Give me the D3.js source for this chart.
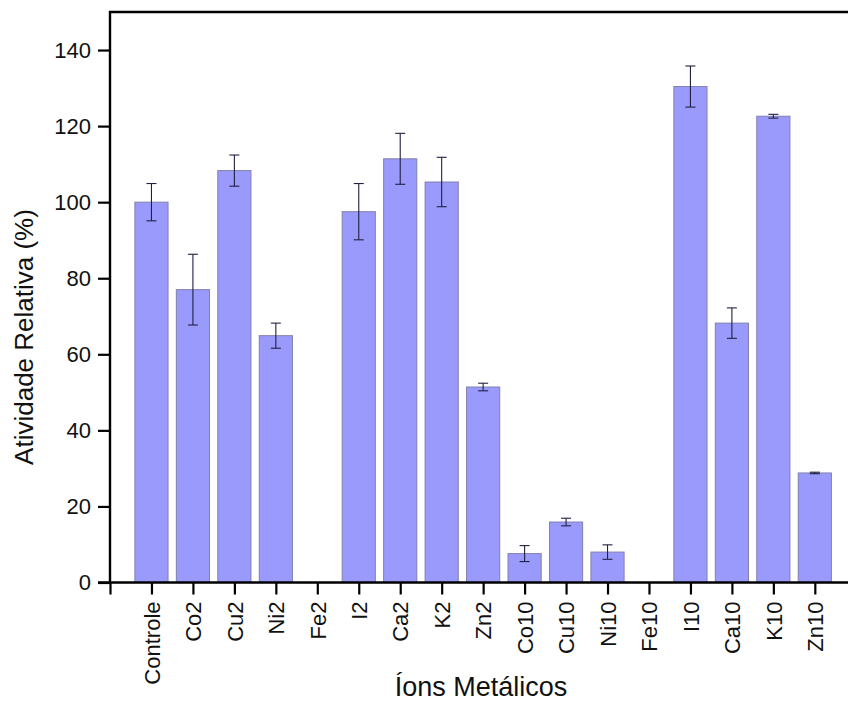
<!DOCTYPE html>
<html>
<head>
<meta charset="utf-8">
<script src="https://cdn.jsdelivr.net/npm/d3@7"></script>
<style>
  body { margin: 0; background: #fff; }
  svg { display: block; font-family: Arial, "Liberation Sans", sans-serif; }
</style>
</head>
<body>
<svg id="chart" width="848" height="702"></svg>
<script>
// data
const categories = ['Controle', 'Co2', 'Cu2', 'Ni2', 'Fe2', 'I2', 'Ca2', 'K2', 'Zn2',
  'Co10', 'Cu10', 'Ni10', 'Fe10', 'I10', 'Ca10', 'K10', 'Zn10']
const values = [100, 77, 108.3, 64.9, 0, 97.5, 111.4, 105.3, 51.4,
  7.6, 15.9, 8.0, 0, 130.4, 68.2, 122.6, 28.8]
const errors = [4.9, 9.3, 4.1, 3.3, 0, 7.4, 6.7, 6.5, 1.0,
  2.1, 1.0, 1.9, 0, 5.4, 4.0, 0.5, 0.2]
const yTicks = [0, 20, 40, 60, 80, 100, 120, 140]

/*----------------------------------------------------------------------------*/

const plotLeft = 110
const plotTop = 12
const plotBottom = 582.5
const step = 41.46
const barW = 0.8

const svg = d3.select('#chart')

const x = d3.scaleLinear()
  .domain([0, categories.length + 1])
  .range([plotLeft, plotLeft + step * (categories.length + 1)])

const y = d3.scaleLinear()
  .domain([0, 150])
  .range([plotBottom, plotTop])

const data = categories.map((c, i) => ({ name: c, pos: i + 1, value: values[i], err: errors[i] }))

// bars
svg.append('g')
  .selectAll('rect')
  .data(data.filter(d => d.value > 0))
  .enter()
  .append('rect')
  .attr('x', d => x(d.pos - barW / 2))
  .attr('width', d => x(d.pos + barW / 2) - x(d.pos - barW / 2))
  .attr('y', d => y(d.value))
  .attr('height', d => y(0) - y(d.value))
  .attr('fill', '#9a9afd')
  .attr('stroke', '#8080b0')
  .attr('stroke-width', 1)

// error bars
const eb = svg.append('g')
  .attr('stroke', '#202040')
  .attr('stroke-width', 1.1)
  .selectAll('g')
  .data(data.filter(d => d.err > 0))
  .enter()
  .append('g')

eb.append('line')
  .attr('x1', d => x(d.pos)).attr('x2', d => x(d.pos))
  .attr('y1', d => y(d.value + d.err)).attr('y2', d => y(d.value - d.err))
eb.append('line')
  .attr('x1', d => x(d.pos) - 5).attr('x2', d => x(d.pos) + 5)
  .attr('y1', d => y(d.value + d.err)).attr('y2', d => y(d.value + d.err))
eb.append('line')
  .attr('x1', d => x(d.pos) - 5).attr('x2', d => x(d.pos) + 5)
  .attr('y1', d => y(d.value - d.err)).attr('y2', d => y(d.value - d.err))

// y axis
const yAxis = svg.append('g')
  .attr('transform', `translate(${plotLeft},0)`)
  .call(d3.axisLeft(y).tickValues(yTicks).tickSize(12).tickPadding(7))
yAxis.select('.domain').remove()
yAxis.selectAll('line').attr('stroke', '#000').attr('stroke-width', 2.2)
yAxis.selectAll('text').attr('font-size', 22).attr('fill', '#111')

// x axis
const xAxis = svg.append('g')
  .attr('transform', `translate(0,${plotBottom})`)
  .call(d3.axisBottom(x)
    .tickValues(d3.range(0, categories.length + 2))
    .tickSize(12)
    .tickFormat(d => categories[d - 1] || ''))
xAxis.select('.domain').remove()
xAxis.selectAll('line').attr('stroke', '#000').attr('stroke-width', 2.2)
xAxis.selectAll('text')
  .attr('font-size', 22)
  .attr('fill', '#111')
  .attr('transform', 'rotate(-90)')
  .attr('text-anchor', 'end')
  .attr('x', -19)
  .attr('y', 0)
  .attr('dy', '0.35em')

// frame
svg.append('path')
  .attr('d', `M${plotLeft - 12},${plotBottom}H${x(categories.length + 1)}M${plotLeft},${plotBottom}V${plotTop}H${x(categories.length + 1)}`)
  .attr('fill', 'none')
  .attr('stroke', '#000')
  .attr('stroke-width', 2.4)

// titles
svg.append('text')
  .attr('transform', `translate(33,337) rotate(-90)`)
  .attr('text-anchor', 'middle')
  .attr('font-size', 26)
  .attr('fill', '#111')
  .text('Atividade Relativa (%)')

svg.append('text')
  .attr('x', 481)
  .attr('y', 696)
  .attr('text-anchor', 'middle')
  .attr('font-size', 27)
  .attr('fill', '#111')
  .text('Íons Metálicos')
</script>
</body>
</html>
